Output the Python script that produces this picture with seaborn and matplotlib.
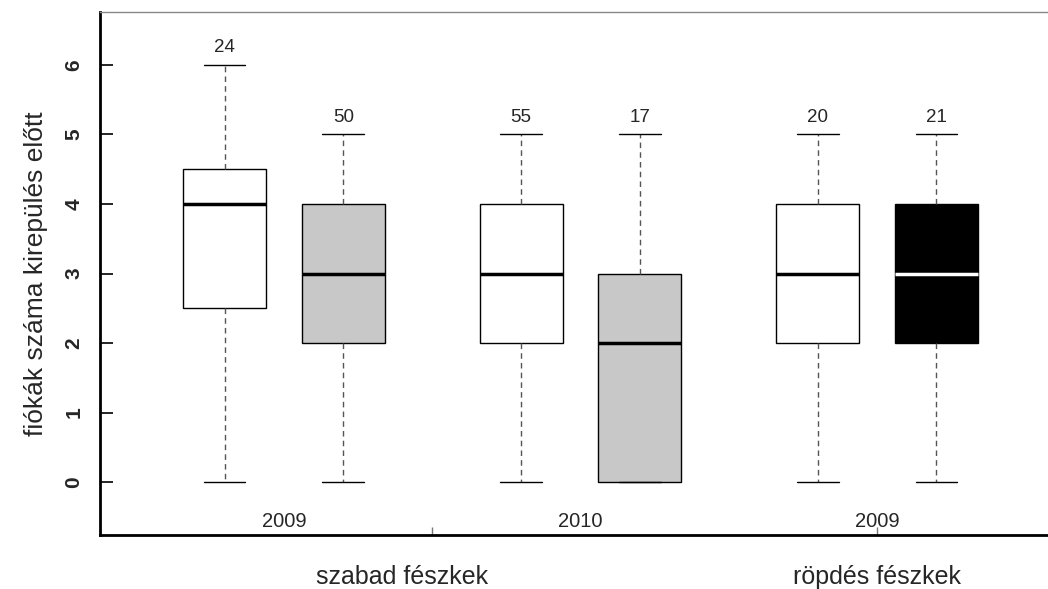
"""
Box plot of fledgling counts per nest type and year (R-style look).
"""
import pandas as pd
import matplotlib
matplotlib.use("Agg")
import matplotlib.pyplot as plt
import seaborn as sns

# box positions and five-number summaries
positions = [1, 2, 3.5, 4.5, 6, 7]
whisk_lo = [0, 0, 0, 0, 0, 0]
q1 = [2.5, 2, 2, 0, 2, 2]
median = [4, 3, 3, 2, 3, 3]
q3 = [4.5, 4, 4, 3, 4, 4]
whisk_hi = [6, 5, 5, 5, 5, 5]
n_nests = [24, 50, 55, 17, 20, 21]
fill_colors = ["white", "#c8c8c8", "white", "#c8c8c8", "white", "black"]

year_pos = [1.5, 4.0, 6.5]
year_labels = ["2009", "2010", "2009"]
group_pos = [2.5, 6.5]
group_labels = ["szabad fészkek", "röpdés fészkek"]

rows = []
for p, a, b, c, d, e in zip(positions, whisk_lo, q1, median, q3, whisk_hi):
    for v in (a, b, c, d, e):
        rows.append({"pos": p, "value": v})
df = pd.DataFrame(rows)

sns.set_style("white")
plt.rcParams["font.family"] = ["Liberation Sans", "DejaVu Sans"]

fig = plt.figure(figsize=(10.48, 5.89), dpi=100)
ax = fig.add_axes([100 / 1048, 1 - 535 / 589, 948 / 1048, 523 / 589])

palette = {p: c for p, c in zip(positions, fill_colors)}
common = dict(x="pos", y="value", hue="pos", palette=palette, native_scale=True,
              width=0.7, linecolor="black", linewidth=1, legend=False,
              showfliers=False, ax=ax,
              whiskerprops=dict(linestyle=(0, (4, 3)), color="#555555"),
              capprops=dict(color="black"),
              boxprops=dict(edgecolor="black"))

sns.boxplot(data=df[df["pos"] != 7], medianprops=dict(color="black", linewidth=2.5), **common)
sns.boxplot(data=df[df["pos"] == 7], medianprops=dict(color="white", linewidth=2.5), **common)

# sample sizes above the upper whiskers
for p, hi, n in zip(positions, whisk_hi, n_nests):
    ax.text(p, hi + 0.25, str(n), ha="center", va="center", fontsize=13.5)

for p, lab in zip(year_pos, year_labels):
    ax.text(p, -0.56, lab, ha="center", va="center", fontsize=14.5)
for p, lab in zip(group_pos, group_labels):
    ax.text(p, -1.37, lab, ha="center", va="center", fontsize=18, clip_on=False)

ax.set_xlim(-0.05, 7.94)
ax.set_ylim(-0.76, 6.76)
ax.set_xticks([2.75, 6.5])
ax.set_xticklabels(["", ""])
ax.tick_params(axis="x", direction="in", length=6, width=1, color="#777777", bottom=True)
ax.set_yticks(range(7))
ax.set_yticklabels([str(i) for i in range(7)], rotation=90, va="center",
                   fontsize=15, fontweight="bold")
ax.tick_params(axis="y", direction="in", length=9, width=1.2, color="black", pad=12, left=True)
ax.set_xlabel("")
ax.set_ylabel("fiókák száma kirepülés előtt", fontsize=19, labelpad=12)

for side in ("left", "bottom"):
    ax.spines[side].set_color("black")
    ax.spines[side].set_linewidth(2)
ax.spines["top"].set_color("#888888")
ax.spines["top"].set_linewidth(1)
ax.spines["right"].set_visible(False)

fig.savefig("out.png", dpi=100)
plt.close(fig)
